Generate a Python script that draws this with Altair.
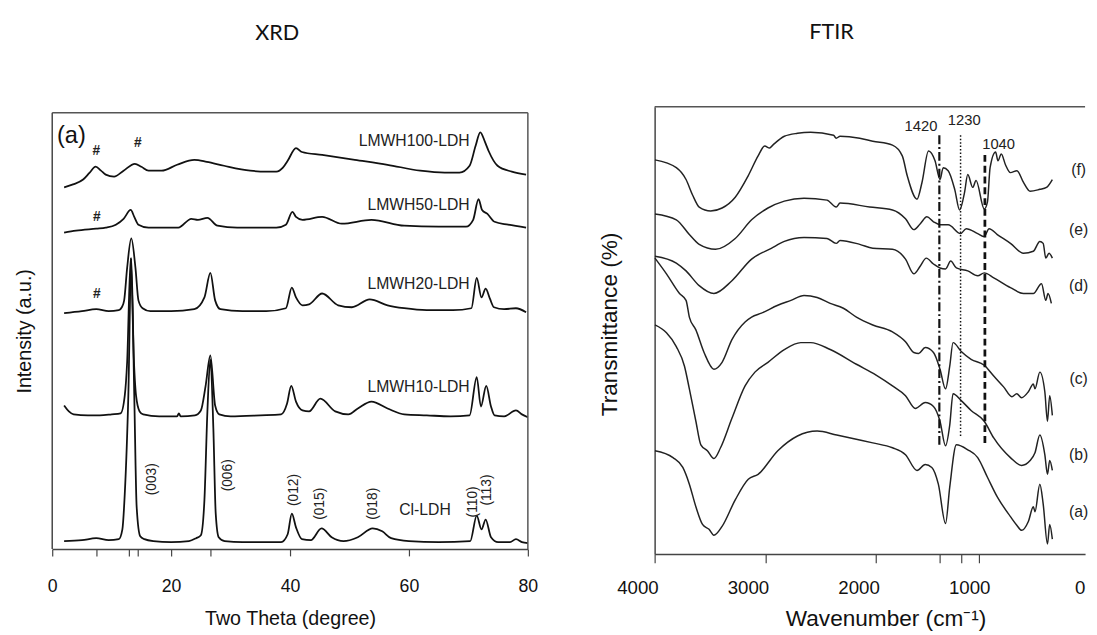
import altair as alt
import pandas as pd

# ---------------- XRD data (two theta in degrees, intensity in a.u.) ----------------
cl_x = [2.0, 5.0, 7.4, 9.5, 11.2, 11.8, 12.2, 12.8, 13.3, 13.8, 14.2, 14.8, 15.5, 17, 20, 23, 24.2, 25.0, 25.6, 26.1, 26.6, 27.1, 27.5, 28.0, 29, 32, 35, 38.5, 39.6, 40.3, 41.0, 42.0, 43.5, 45.3, 47, 49, 51.4, 53.9, 55.5, 57, 60, 65, 70.3, 71.4, 72.2, 72.9, 73.8, 75, 77, 78, 79, 80]
cl_y = [8, 9, 11, 9, 10, 20, 56, 156, 296, 156, 43, 13, 10, 8, 7, 8, 11, 14, 50, 140, 193, 123, 36, 12, 8, 7, 7, 7, 15, 36, 22, 10, 9, 21, 12, 8, 12, 21, 18, 11, 8, 7, 8, 34, 20, 30, 12, 7, 7, 10, 7, 6]

lm10_x = [2.0, 2.8, 3.6, 6, 8, 10, 11.5, 12.2, 12.6, 13.2, 13.75, 14.1, 14.7, 15.3, 18, 21, 21.3, 21.6, 24, 25.0, 25.8, 26.6, 27.4, 28.1, 30, 35, 38.5, 39.5, 40.2, 41.0, 42.1, 43.2, 45.1, 47.6, 49.8, 51.4, 53.7, 56.4, 59.2, 63, 67, 70.2, 71.4, 72.1, 73.0, 73.8, 74.4, 76, 78, 79, 80]
lm10_y = [146, 140, 137, 136, 136, 137, 138, 156, 190, 296, 190, 156, 140, 137, 135, 135, 138, 135, 136, 141, 166, 197, 146, 137, 135, 136, 137, 148, 166, 150, 141, 140, 153, 140, 137, 143, 150, 143, 137, 136, 135, 136, 175, 145, 166, 145, 136, 135, 141, 137, 134]

lm20_x = [2.0, 5, 7.4, 9.5, 11.2, 11.7, 12.1, 12.6, 13.3, 14.0, 14.5, 15.2, 16.5, 20, 23.9, 25.6, 26.6, 27.4, 28.3, 32, 36, 39.3, 40.3, 41.0, 42.1, 43.2, 45.4, 48.1, 50.4, 53.4, 56.4, 59.2, 63, 67.4, 70.5, 71.4, 72.2, 72.9, 73.6, 74.3, 76, 78, 79.7]
lm20_y = [240, 242, 244, 242, 243, 246, 253, 286, 316, 286, 253, 245, 242, 242, 244, 256, 281, 253, 244, 242, 242, 245, 266, 256, 248, 249, 260, 248, 246, 254, 248, 245, 243, 243, 245, 276, 256, 265, 255, 246, 244, 245, 241]

lm50_x = [2.0, 4, 7.4, 9, 10.7, 12.0, 13.2, 13.8, 14.5, 16.2, 21.2, 23.4, 24.5, 26.1, 27.8, 31.1, 36, 37.7, 39.3, 40.4, 41.0, 42.1, 45.4, 48.7, 53.7, 59.2, 65, 69.6, 70.8, 71.7, 72.3, 73.2, 74.4, 76.7, 79.7]
lm50_y = [322, 324, 326, 327, 330, 336, 345, 338, 330, 327, 327, 336, 335, 337, 329, 327, 327, 327, 330, 343, 338, 335, 338, 331, 335, 329, 328, 328, 335, 356, 345, 341, 333, 330, 327]

lm100_x = [2.0, 3.5, 5.2, 6.3, 7.3, 8.2, 9.0, 10.4, 12.0, 13.9, 15.0, 16.2, 18.4, 21, 23.9, 26, 28.9, 33.3, 36, 37.7, 38.8, 39.6, 41.0, 42, 45.4, 50.9, 56.4, 61.9, 66, 68.5, 70.2, 71.2, 72.0, 72.8, 73.4, 74.9, 77.3, 79.7]
lm100_y = [368, 371, 376, 383, 389, 385, 381, 379, 385, 392, 389, 385, 385, 391, 396, 394, 390, 385, 384, 384, 388, 395, 408, 404, 401, 396, 391, 385, 383, 383, 390, 410, 424, 414, 405, 390, 384, 381]

xrd_names = ["Cl-LDH", "LMWH10-LDH", "LMWH20-LDH", "LMWH50-LDH", "LMWH100-LDH"]
xrd_ticks = [0, 7.4, 12.9, 14.4, 20, 26.6, 40, 60, 80]

# curve labels
xrd_lab_text = ["LMWH100-LDH", "LMWH50-LDH", "LMWH20-LDH", "LMWH10-LDH"]
xrd_lab_x = [70.2, 70.2, 70.2, 70.2]
xrd_lab_y = [415, 350, 270, 165]
cl_lab_x, cl_lab_y = [62.7], [40]
hash_x = [7.4, 14.4, 7.5, 7.5]
hash_y = [405, 413, 338, 259]
hkl_text = ["(003)", "(006)", "(012)", "(015)", "(018)", "(110)", "(113)"]
hkl_x = [16.8, 29.5, 40.7, 45.1, 53.9, 70.7, 73.2]
hkl_y = [71, 75, 60, 46, 46, 48, 60]

# ---------------- FTIR data (wavenumber, transmittance a.u.) ----------------
f_x = [3997, 3804, 3716, 3656, 3597, 3493, 3390, 3271, 3153, 3064, 3004, 2960, 2931, 2827, 2708, 2589, 2382, 2358, 2323, 2145, 2027, 1849, 1760, 1716, 1627, 1582, 1523, 1464, 1419, 1390, 1345, 1286, 1242, 1197, 1168, 1123, 1093, 1019, 990, 966, 916, 895, 865, 827, 782, 723, 664, 604, 516, 456, 403]
f_y = [401, 393, 381, 365, 353, 349, 352, 363, 385, 405, 415, 413, 416, 425, 428, 429, 426, 423, 425, 423, 420, 416, 405, 385, 361, 378, 410, 400, 381, 393, 390, 371, 350, 368, 386, 373, 380, 351, 358, 393, 409, 400, 407, 396, 388, 390, 378, 369, 371, 373, 381]
e_x = [3997, 3804, 3686, 3597, 3449, 3271, 3123, 2975, 2827, 2649, 2441, 2358, 2323, 2056, 1849, 1731, 1656, 1597, 1538, 1478, 1419, 1345, 1233, 1182, 1078, 1019, 975, 901, 782, 664, 575, 516, 486, 462, 433, 403]
e_y = [346, 340, 325, 315, 310, 321, 340, 352, 359, 362, 360, 353, 357, 353, 350, 341, 330, 336, 343, 338, 335, 335, 326, 331, 326, 323, 331, 325, 316, 306, 308, 318, 316, 301, 306, 301]
d_x = [3997, 3804, 3716, 3597, 3464, 3301, 3123, 2945, 2827, 2649, 2441, 2358, 2323, 2145, 2027, 1849, 1731, 1656, 1597, 1543, 1478, 1419, 1369, 1322, 1271, 1168, 1078, 1019, 933, 782, 664, 575, 501, 462, 442, 412]
d_y = [303, 296, 288, 273, 265, 278, 300, 311, 318, 322, 321, 316, 319, 315, 311, 310, 300, 285, 293, 301, 295, 291, 290, 298, 291, 288, 283, 286, 281, 271, 265, 265, 275, 258, 265, 255]
c_x = [3997, 3893, 3775, 3716, 3686, 3627, 3553, 3464, 3390, 3301, 3182, 3123, 3034, 2886, 2767, 2649, 2530, 2412, 2293, 2175, 2027, 1849, 1731, 1656, 1612, 1553, 1478, 1419, 1369, 1331, 1301, 1227, 1138, 1019, 933, 844, 769, 725, 681, 620, 575, 560, 516, 471, 447, 427, 403]
c_y = [301, 285, 265, 258, 241, 228, 205, 188, 195, 218, 236, 241, 245, 253, 258, 263, 261, 255, 250, 241, 233, 226, 216, 205, 204, 210, 205, 188, 168, 191, 215, 206, 198, 192, 181, 170, 160, 163, 159, 165, 173, 168, 185, 165, 135, 161, 141]
b_x = [3997, 3893, 3804, 3730, 3686, 3627, 3582, 3523, 3464, 3404, 3301, 3182, 3093, 2975, 2827, 2678, 2589, 2412, 2175, 1997, 1849, 1731, 1642, 1553, 1478, 1419, 1369, 1331, 1301, 1227, 1138, 1019, 933, 782, 681, 604, 560, 516, 471, 447, 427, 403]
b_y = [233, 225, 211, 191, 168, 135, 111, 105, 97, 108, 138, 171, 185, 195, 208, 215, 215, 208, 193, 182, 171, 161, 148, 154, 150, 135, 110, 131, 163, 156, 146, 135, 118, 98, 90, 95, 103, 121, 101, 81, 95, 85]
a_x = [3997, 3834, 3745, 3686, 3627, 3567, 3508, 3464, 3390, 3271, 3153, 3064, 2886, 2708, 2530, 2353, 2145, 2027, 1849, 1731, 1627, 1553, 1493, 1434, 1369, 1331, 1271, 1168, 1078, 990, 901, 782, 723, 681, 620, 575, 560, 516, 486, 447, 427, 403]
a_y = [105, 98, 88, 71, 48, 30, 25, 19, 28, 55, 76, 81, 105, 120, 125, 121, 116, 113, 108, 101, 85, 91, 88, 71, 31, 68, 111, 106, 98, 78, 58, 38, 29, 24, 33, 48, 43, 71, 51, 10, 30, 15]

ftir_names = ["(a)", "(b)", "(c)", "(d)", "(e)", "(f)"]
ftir_lab_x = [165, 165, 165, 165, 165, 165]
ftir_lab_y = [43, 101, 178, 273, 330, 391]
marker_wn = [1425, 1233, 1013]
marker_top = [426, 426, 406]
marker_bottom = [111, 118, 111]
marker_text = ["1420", "1230", "1040"]
marker_text_x = [1591, 1200, 889]
marker_text_y = [435, 441, 417]
ftir_ticks = [4000, 3000, 2000, 1420, 1230, 1070]
ftir_tick_labels = [4000, 3000, 2000, 1000, 0]

# ---------------- build tables ----------------
xrd_df = pd.concat([
    pd.DataFrame({"x": xs, "y": ys, "s": n})
    for xs, ys, n in zip([cl_x, lm10_x, lm20_x, lm50_x, lm100_x],
                         [cl_y, lm10_y, lm20_y, lm50_y, lm100_y], xrd_names)
])
ftir_df = pd.concat([
    pd.DataFrame({"x": xs, "y": ys, "s": n})
    for xs, ys, n in zip([a_x, b_x, c_x, d_x, e_x, f_x],
                         [a_y, b_y, c_y, d_y, e_y, f_y], ftir_names)
])

FONT = "Liberation Sans"
W1, H1 = 484, 450
FT = 6  # XRD frame sits slightly lower than the FTIR frame
W2, H2 = 438, 455

xs1 = alt.Scale(domain=[0, 80], nice=False, zero=False)
ys1 = alt.Scale(domain=[0, 450], nice=False, zero=False)

xrd_lines = alt.Chart(xrd_df).mark_line(color="#111", strokeWidth=1.8, interpolate="monotone").encode(
    x=alt.X("x:Q", scale=xs1, axis=alt.Axis(
        title="Two Theta (degree)", values=xrd_ticks,
        labelExpr="datum.value % 20 == 0 ? '' + datum.value : ''",
        tickSize=7, labelPadding=22, labelFontSize=18, titleFontSize=20, titlePadding=14,
        labelFlush=False)),
    y=alt.Y("y:Q", scale=ys1, axis=alt.Axis(
        title="Intensity (a.u.)", ticks=False, labels=False, domain=False,
        titleFontSize=20, titlePadding=18, titleY=228)),
    detail="s:N",
)

lab_df = pd.DataFrame({"x": xrd_lab_x, "y": xrd_lab_y, "t": xrd_lab_text})
xrd_labels = alt.Chart(lab_df).mark_text(align="right", baseline="middle", font=FONT, fontSize=16, color="#222").encode(
    x=alt.X("x:Q", scale=xs1), y=alt.Y("y:Q", scale=ys1), text="t:N")
cl_df = pd.DataFrame({"x": cl_lab_x, "y": cl_lab_y, "t": ["Cl-LDH"]})
cl_label = alt.Chart(cl_df).mark_text(align="center", baseline="middle", font=FONT, fontSize=16, color="#222").encode(
    x=alt.X("x:Q", scale=xs1), y=alt.Y("y:Q", scale=ys1), text="t:N")
a_df = pd.DataFrame({"x": [0.8], "y": [420], "t": ["(a)"]})
a_label = alt.Chart(a_df).mark_text(align="left", baseline="middle", font=FONT, fontSize=24, color="#111").encode(
    x=alt.X("x:Q", scale=xs1), y=alt.Y("y:Q", scale=ys1), text="t:N")
hash_df = pd.DataFrame({"x": hash_x, "y": hash_y, "t": ["#"] * len(hash_x)})
hash_label = alt.Chart(hash_df).mark_text(align="center", baseline="middle", font=FONT, fontSize=14, fontWeight="bold", color="#222").encode(
    x=alt.X("x:Q", scale=xs1), y=alt.Y("y:Q", scale=ys1), text="t:N")
hkl_df = pd.DataFrame({"x": hkl_x, "y": hkl_y, "t": hkl_text})
hkl_label = alt.Chart(hkl_df).mark_text(align="center", baseline="middle", angle=270, font=FONT, fontSize=14, color="#222").encode(
    x=alt.X("x:Q", scale=xs1), y=alt.Y("y:Q", scale=ys1), text="t:N")

frame_top1 = alt.Chart().mark_rule(color="#555", strokeWidth=1.5).encode(
    x=alt.value(0), x2=alt.value(W1), y=alt.value(FT))
frame_left1 = alt.Chart().mark_rule(color="#444", strokeWidth=1.5).encode(
    x=alt.value(0), y=alt.value(FT), y2=alt.value(H1))
frame_right1 = alt.Chart().mark_rule(color="#555", strokeWidth=1.5).encode(
    x=alt.value(W1), y=alt.value(FT), y2=alt.value(H1))

xrd = alt.layer(xrd_lines, xrd_labels, cl_label, a_label, hash_label, hkl_label,
                frame_top1, frame_left1, frame_right1).properties(
    width=W1, height=H1,
    title=alt.TitleParams("XRD", font="Lato", fontSize=22, fontWeight="normal", color="#111", offset=63, dx=-13))

# ---------------- FTIR ----------------
xs2 = alt.Scale(domain=[4000, 107], nice=False, zero=False)
ys2 = alt.Scale(domain=[0, 455], nice=False, zero=False)

ftir_lines = alt.Chart(ftir_df).mark_line(color="#222", strokeWidth=1.5, interpolate="monotone").encode(
    x=alt.X("x:Q", scale=xs2, axis=alt.Axis(
        title="Wavenumber (cm⁻¹)", values=ftir_ticks, labels=False, tickSize=9,
        titleFontSize=23, titlePadding=45, titleX=235)),
    y=alt.Y("y:Q", scale=ys2, axis=alt.Axis(
        title="Transmittance (%)", ticks=False, labels=False, titleFontSize=23, titlePadding=34, titleY=221)),
    detail="s:N",
)
flab_df = pd.DataFrame({"x": ftir_lab_x, "y": ftir_lab_y, "t": ftir_names})
ftir_labels = alt.Chart(flab_df).mark_text(align="center", baseline="middle", font=FONT, fontSize=16, color="#222").encode(
    x=alt.X("x:Q", scale=xs2), y=alt.Y("y:Q", scale=ys2), text="t:N")
mt_df = pd.DataFrame({"x": marker_text_x, "y": marker_text_y, "t": marker_text})
marker_labels = alt.Chart(mt_df).mark_text(align="center", baseline="middle", font=FONT, fontSize=15, color="#222").encode(
    x=alt.X("x:Q", scale=xs2), y=alt.Y("y:Q", scale=ys2), text="t:N")

dashes = [[9, 3, 2, 3], [1.5, 2], [7, 4]]
widths = [2.2, 1.5, 2.8]
marker_rules = []
for wn, top, bot, dash, sw in zip(marker_wn, marker_top, marker_bottom, dashes, widths):
    rdf = pd.DataFrame({"x": [wn], "y": [top], "y2": [bot]})
    marker_rules.append(alt.Chart(rdf).mark_rule(color="#111", strokeWidth=sw, strokeDash=dash).encode(
        x=alt.X("x:Q", scale=xs2), y=alt.Y("y:Q", scale=ys2), y2="y2:Q"))

tl_df = pd.DataFrame({"x": ftir_tick_labels, "t": [str(v) for v in ftir_tick_labels]})
tick_labels = alt.Chart(tl_df).mark_text(align="center", baseline="middle", font=FONT, fontSize=19, color="#111", dx=-17).encode(
    x=alt.X("x:Q", scale=xs2), y=alt.value(H2 + 35), text="t:N")

frame_top2 = alt.Chart().mark_rule(color="#555", strokeWidth=1.5).encode(
    x=alt.value(0), x2=alt.value(W2), y=alt.value(0))

ftir = alt.layer(ftir_lines, ftir_labels, marker_labels, *marker_rules, tick_labels, frame_top2).properties(
    width=W2, height=H2,
    title=alt.TitleParams("FTIR", font="Lato", fontSize=22, fontWeight="normal", color="#111", offset=63, dx=-39))

chart = alt.hconcat(xrd, ftir, spacing=61).properties(
    padding={"left": 7, "top": 8, "right": 0, "bottom": 0},
    background="white",
).configure_view(stroke=None).configure_axis(
    grid=False, domainColor="#444", domainWidth=1.5, tickColor="#444", tickWidth=1.2,
    labelFont=FONT, titleFont=FONT, labelColor="#111", titleColor="#111", titleFontWeight="normal",
)

chart.save("out.html", embed_options={"renderer": "svg", "actions": False})
